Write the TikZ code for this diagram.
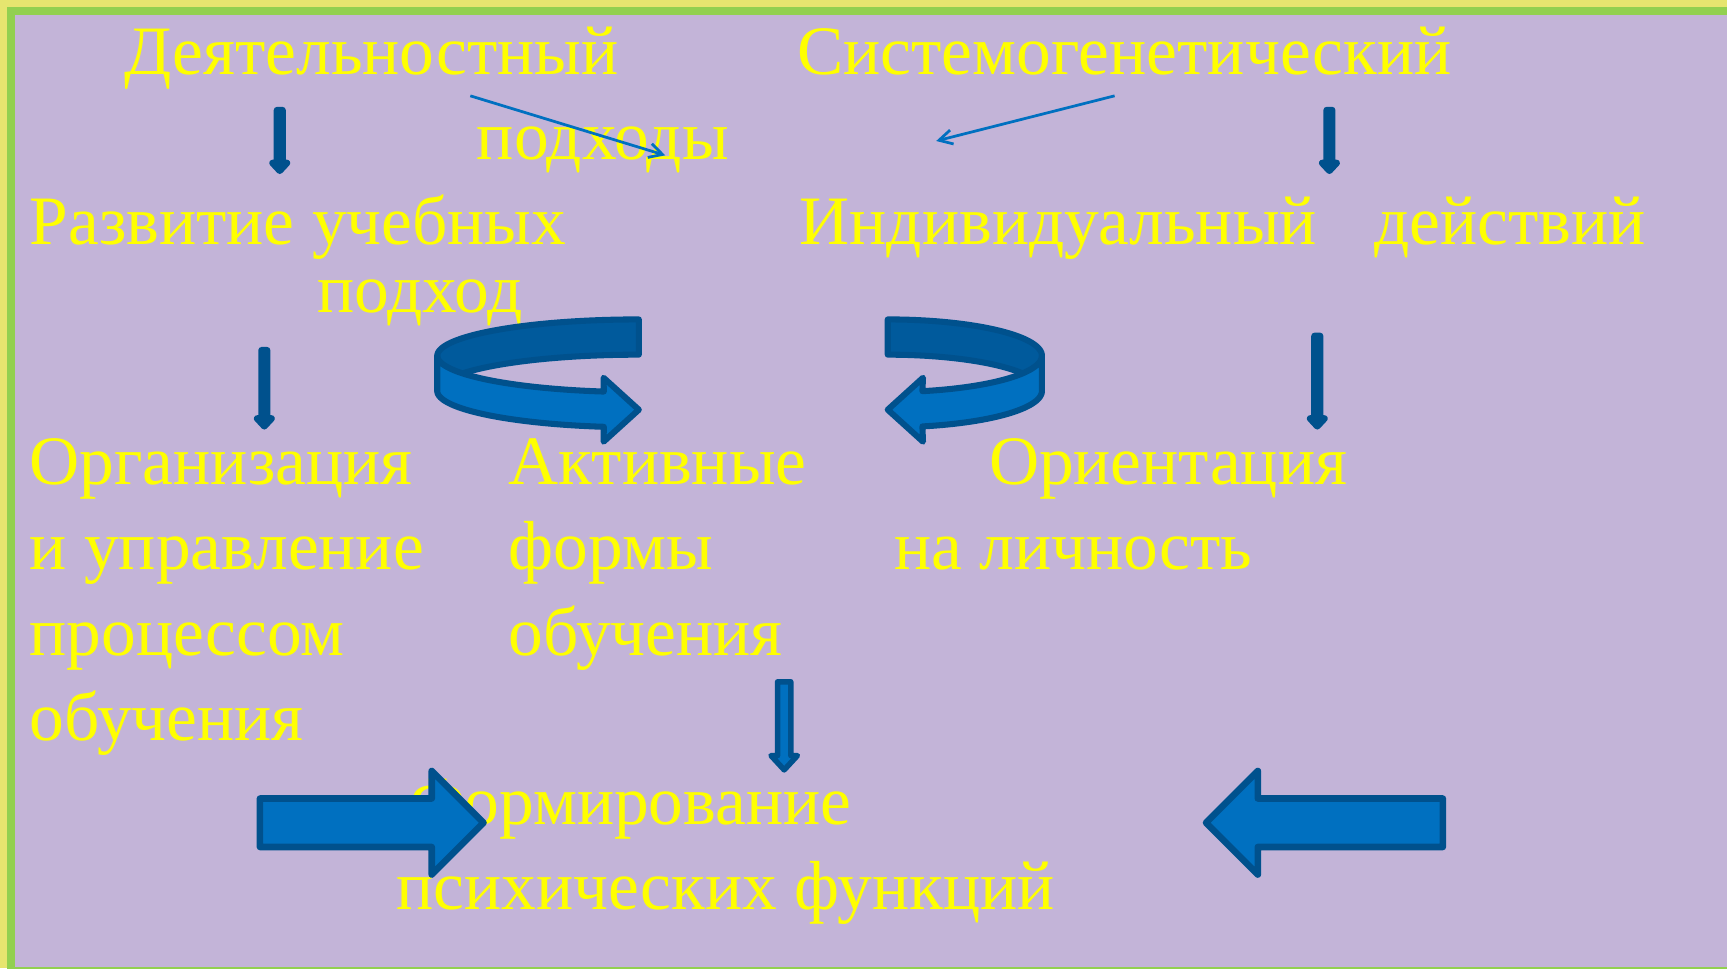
\documentclass[tikz,border=0pt]{standalone}
\usepackage{fontspec}
\setmainfont{Liberation Serif}
\usetikzlibrary{arrows.meta}
\definecolor{bgyellow}{HTML}{E6E56F}
\definecolor{framegreen}{HTML}{92D050}
\definecolor{panelpurple}{HTML}{C3B4D8}
\definecolor{txtyellow}{HTML}{FFFF00}
\definecolor{darkblue}{HTML}{00518D}
\definecolor{bandblue}{HTML}{005A9C}
\definecolor{midblue}{HTML}{0070C0}
\tikzset{
  txt/.style={text=txtyellow, font=\fontsize{63}{76}\selectfont, inner sep=0pt, outer sep=0pt, anchor=base west},
  txtr/.style={txt, anchor=base east},
  smallarrow/.style={fill=darkblue, draw=darkblue, line width=6, line join=round},
  blockarrow/.style={fill=midblue, draw=darkblue, line width=6, line join=round},
  thinarrow/.style={draw=midblue, line width=2.5, -{Straight Barb[length=12, width=13]}},
  backband/.style={fill=bandblue, draw=darkblue, line width=5.5, line join=round},
  frontband/.style={fill=midblue, draw=darkblue, line width=5.5, line join=round},
}
\newcommand{\sdarrow}[3]{%
  \filldraw[smallarrow] ({#1-2.5},{#2}) -- ({#1+2.5},{#2}) -- ({#1+2.5},{#3-7}) -- ({#1+6.5},{#3-7})
    -- ({#1},{#3}) -- ({#1-6.5},{#3-7}) -- ({#1-2.5},{#3-7}) -- cycle;}
\begin{document}
\begin{tikzpicture}[x=1pt, y=-1pt]
\useasboundingbox (0,0) rectangle (1568,879);
\clip (0,0) rectangle (1568,879);
% background
\fill[bgyellow] (0,0) rectangle (1568,879);
\draw[framegreen, line width=7.5, fill=panelpurple] (10,10) rectangle (1600,882);

% texts
\node[txt] (t1) at (113,68) {Деятельностный};
\node[txt] (t2) at (724,68) {Системогенетический};
\node[txt] (t3) at (433,145) {подходы};
\node[txt] (t4) at (27,222) {Развитие учебных};
\node[txt] (t5) at (726,222) {Индивидуальный};
\node[txt] (t6) at (1248,222) {действий};
\node[txt] (t7) at (288,284) {подход};
\node[txt] (t8) at (27,440) {Организация};
\node[txt] (t9) at (27,517) {и управление};
\node[txt] (t10) at (27,595) {процессом};
\node[txt] (t11) at (27,672) {обучения};
\node[txt] (t12) at (462,440) {Активные};
\node[txt] (t13) at (462,517) {формы};
\node[txt] (t14) at (462,595) {обучения};
\node[txt] (t15) at (898,440) {Ориентация};
\node[txt] (t16) at (812,517) {на личность};
\node[txtr] (t17) at (773,749) {Формирование};
\node[txt] (t18) at (360,826) {психических функций};

% thin connectors
\coordinate (c1s) at (427,87);
\coordinate (c1e) at (604,141);
\coordinate (c2s) at (1012,87);
\coordinate (c2e) at (850,128);
\draw[thinarrow] (c1s) -- (c1e);
\draw[thinarrow] (c2s) -- (c2e);

% small solid down arrows
\sdarrow{254}{100}{155}
\sdarrow{1207}{100}{155}
\sdarrow{240}{318}{387}
\sdarrow{1196}{305}{387}

% middle outlined down arrow
\filldraw[blockarrow, line width=5] (706,619) -- (718,619) -- (718,686) -- (724,686) -- (712,699)
  -- (700,686) -- (706,686) -- cycle;

% big block arrows
\filldraw[blockarrow] (236,725) -- (392,725) -- (392,700) -- (439,747) -- (392,794) -- (392,769)
  -- (236,769) -- cycle;
\filldraw[blockarrow] (1095,747) -- (1142,700) -- (1142,725) -- (1310,725) -- (1310,769)
  -- (1142,769) -- (1142,794) -- cycle;

% left circular arrow
\filldraw[backband] (580,290)
  -- plot[domain=90:180, samples=40] ({580+183*cos(\x)},{323-33*sin(\x)})
  -- plot[domain=180:90, samples=40] ({580+183*cos(\x)},{355-33*sin(\x)}) -- cycle;
\filldraw[frontband]
  plot[domain=180:260, samples=40] ({580+183*cos(\x)},{323-33*sin(\x)})
  -- (548,343) -- (580,372) -- (548,401)
  -- plot[domain=260:180, samples=40] ({580+183*cos(\x)},{355-33*sin(\x)}) -- cycle;

% right circular arrow
\filldraw[backband] (806,290)
  -- plot[domain=90:0, samples=40] ({806+140*cos(\x)},{323-33*sin(\x)})
  -- plot[domain=0:90, samples=40] ({806+140*cos(\x)},{355-33*sin(\x)}) -- cycle;
\filldraw[frontband]
  plot[domain=0:-77, samples=40] ({806+140*cos(\x)},{323-33*sin(\x)})
  -- (838,343) -- (806,372) -- (838,401)
  -- plot[domain=-77:0, samples=40] ({806+140*cos(\x)},{355-33*sin(\x)}) -- cycle;
\end{tikzpicture}
\end{document}
